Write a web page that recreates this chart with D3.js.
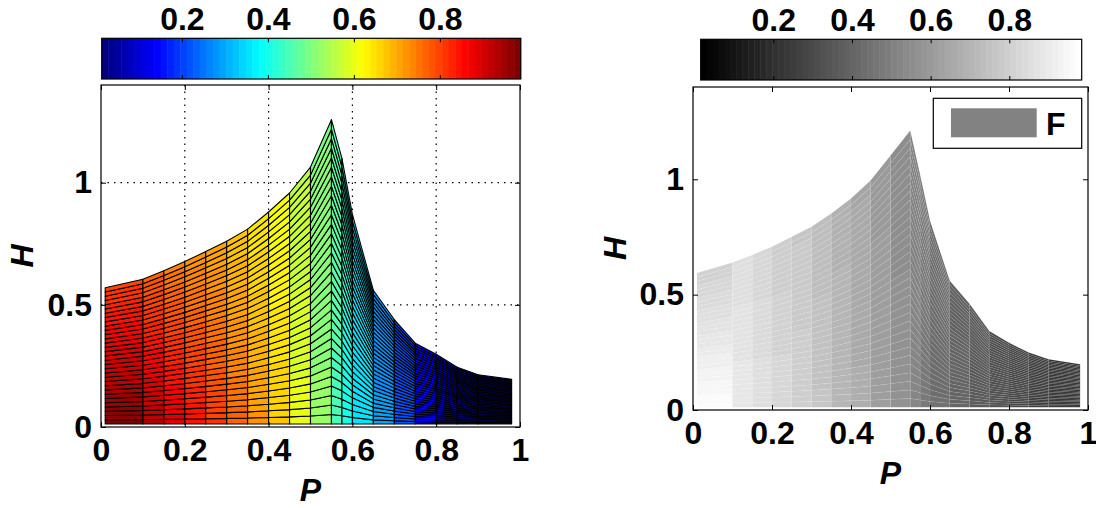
<!DOCTYPE html>
<html>
<head>
<meta charset="utf-8">
<script src="https://cdn.jsdelivr.net/npm/d3@7"></script>
<style>
  body { margin: 0; background: #fff; }
  text { font-family: "Liberation Sans", Arial, sans-serif; font-weight: bold; }
</style>
</head>
<body>
<div id="chart"></div>
<script>
// Data
const pNodes = [0.01, 0.1, 0.15, 0.2, 0.25, 0.3, 0.35, 0.4, 0.45, 0.5, 0.55, 0.575, 0.6, 0.65, 0.7, 0.75, 0.8, 0.85, 0.9, 0.98]
const hTopJet = [0.57, 0.605, 0.64, 0.677, 0.718, 0.76, 0.81, 0.88, 0.958, 1.064, 1.258, 1.10, 0.87, 0.56, 0.44, 0.343, 0.298, 0.245, 0.214, 0.195]
const hTopGray = [0.594, 0.639, 0.672, 0.708, 0.751, 0.794, 0.852, 0.917, 0.996, 1.103, 1.211, 1.02, 0.82, 0.56, 0.46, 0.342, 0.292, 0.249, 0.22, 0.198]
const hBottom = 0.012
const nRows = 32

// F per column (bottom row, top row)
const fBotJet = [0.98, 0.93, 0.89, 0.85, 0.81, 0.77, 0.72, 0.67, 0.60, 0.52, 0.45, 0.40, 0.36, 0.29, 0.22, 0.15, 0.09, 0.05, 0.02]
const fTopJet = [0.80, 0.77, 0.74, 0.72, 0.70, 0.67, 0.64, 0.61, 0.56, 0.50, 0.47, 0.42, 0.35, 0.28, 0.21, 0.14, 0.08, 0.04, 0.02]
const fBotGray = [0.97, 0.89, 0.86, 0.83, 0.80, 0.76, 0.71, 0.67, 0.62, 0.57, 0.52, 0.48, 0.44, 0.40, 0.36, 0.32, 0.28, 0.24, 0.20]
const fTopGray = [0.80, 0.85, 0.82, 0.79, 0.77, 0.73, 0.69, 0.65, 0.60, 0.55, 0.51, 0.47, 0.43, 0.39, 0.35, 0.31, 0.28, 0.24, 0.20]

const xTicks = [0, 0.2, 0.4, 0.6, 0.8, 1]
const yTicks = [0, 0.5, 1]
const colorbarTicks = [0.2, 0.4, 0.6, 0.8]
const legendLabel = 'F'

function draw() {
  const dimensions = { width: 1096, height: 508 }

  const svg = d3.select('#chart')
    .append('svg')
    .attr('width', dimensions.width)
    .attr('height', dimensions.height)

  svg.append('rect')
    .attr('width', dimensions.width)
    .attr('height', dimensions.height)
    .attr('fill', '#fff')

  const clamp = v => Math.max(0, Math.min(1, v))
  const quant = t => Math.max(0, Math.min(63, Math.floor(t * 64))) / 63

  const jet = t => {
    const x = quant(t)
    const r = clamp(1.5 - Math.abs(4 * x - 3))
    const g = clamp(1.5 - Math.abs(4 * x - 2))
    const b = clamp(1.5 - Math.abs(4 * x - 1))
    return d3.rgb(r * 255, g * 255, b * 255).toString()
  }
  const gray = t => {
    const x = quant(t) * 255
    return d3.rgb(x, x, x).toString()
  }

  const panels = [
    {
      box: { left: 101, right: 520, top: 85, bottom: 427 },
      bar: { left: 101.7, right: 520.7, top: 38.3, bottom: 79 },
      clim: [0.0135, 0.988],
      cmap: jet,
      hTop: hTopJet, fBot: fBotJet, fTop: fTopJet,
      edge: '#000', edgeWidth: 1.1, edgeOpacity: 1,
      grid: true, legend: false,
      yLabelX: 22
    },
    {
      box: { left: 693, right: 1088, top: 87, bottom: 410 },
      bar: { left: 700.7, right: 1081.7, top: 39.3, bottom: 80 },
      clim: [0.0155, 0.984],
      cmap: gray,
      hTop: hTopGray, fBot: fBotGray, fTop: fTopGray,
      edge: '#fff', edgeWidth: 0.6, edgeOpacity: 0.1,
      grid: false, legend: true,
      yLabelX: 615
    }
  ]

  panels.forEach(pn => {
    const { box, bar } = pn
    const xScale = d3.scaleLinear().domain([0, 1]).range([box.left, box.right])
    const yScale = d3.scaleLinear().domain([0, 1.4]).range([box.bottom, box.top])
    const cScale = d3.scaleLinear().domain(pn.clim).range([0, 1]).clamp(true)

    const g = svg.append('g')

    // Grid
    if (pn.grid) {
      g.selectAll('.vgrid')
        .data(xTicks.filter(d => d > 0 && d < 1))
        .join('line')
        .attr('x1', d => xScale(d)).attr('x2', d => xScale(d))
        .attr('y1', box.top).attr('y2', box.bottom)
        .attr('stroke', '#000').attr('stroke-width', 1.2)
        .attr('stroke-dasharray', '1.5,5')
      g.selectAll('.hgrid')
        .data(yTicks.filter(d => d > 0))
        .join('line')
        .attr('y1', d => yScale(d)).attr('y2', d => yScale(d))
        .attr('x1', box.left).attr('x2', box.right)
        .attr('stroke', '#000').attr('stroke-width', 1.2)
        .attr('stroke-dasharray', '1.5,5')
    }

    // Surface cells
    const hAt = (i, s) => hBottom + s * (pn.hTop[i] - hBottom)
    const cells = []
    for (let i = 0; i < pNodes.length - 1; i++) {
      for (let r = 0; r < nRows; r++) {
        const s0 = r / nRows
        const s1 = (r + 1) / nRows
        const f = pn.fBot[i] + (pn.fTop[i] - pn.fBot[i]) * (r + 0.5) / nRows
        cells.push({
          pts: [
            [pNodes[i], hAt(i, s0)],
            [pNodes[i + 1], hAt(i + 1, s0)],
            [pNodes[i + 1], hAt(i + 1, s1)],
            [pNodes[i], hAt(i, s1)]
          ],
          f
        })
      }
    }

    g.append('g')
      .selectAll('path')
      .data(cells)
      .join('path')
      .attr('d', d => 'M' + d.pts.map(p => `${xScale(p[0])},${yScale(p[1])}`).join('L') + 'Z')
      .attr('fill', d => pn.cmap(cScale(d.f)))
      .attr('stroke', pn.edge)
      .attr('stroke-opacity', pn.edgeOpacity)
      .attr('stroke-width', pn.edgeWidth)
      .attr('stroke-linejoin', 'round')

    // Axes
    const fmt = d => String(d)
    const xAxis = d3.axisBottom(xScale).tickValues(xTicks).tickFormat(fmt).tickSize(-5).tickPadding(11)
    const xTop = d3.axisTop(xScale).tickValues(xTicks).tickFormat('').tickSize(-5)
    const yAxis = d3.axisLeft(yScale).tickValues(yTicks).tickFormat(fmt).tickSize(-5).tickPadding(9)
    const yRight = d3.axisRight(yScale).tickValues(yTicks).tickFormat('').tickSize(-5)

    const styleAxis = sel => {
      sel.select('.domain').remove()
      sel.selectAll('line').attr('stroke', '#000')
      sel.selectAll('text')
        .attr('fill', '#000')
        .attr('font-size', 32)
        .style('font-size', '32px')
        .style('font-family', '"Liberation Sans", Arial, sans-serif')
        .style('font-weight', 'bold')
    }

    g.append('g').attr('transform', `translate(0,${box.bottom})`).call(xAxis).call(styleAxis)
    g.append('g').attr('transform', `translate(0,${box.top})`).call(xTop).call(styleAxis)
    g.append('g').attr('transform', `translate(${box.left},0)`).call(yAxis).call(styleAxis)
    g.append('g').attr('transform', `translate(${box.right},0)`).call(yRight).call(styleAxis)

    g.append('rect')
      .attr('x', box.left).attr('y', box.top)
      .attr('width', box.right - box.left)
      .attr('height', box.bottom - box.top)
      .attr('fill', 'none').attr('stroke', '#000').attr('stroke-width', 1.2)

    // Axis labels
    g.append('text')
      .text('P')
      .attr('x', (box.left + box.right) / 2)
      .attr('y', box.bottom + 74)
      .attr('text-anchor', 'middle')
      .style('font-size', '32px')
      .style('font-style', 'italic')

    g.append('text')
      .text('H')
      .attr('transform', `translate(${pn.yLabelX + 11},${(box.top + box.bottom) / 2}) rotate(-90)`)
      .attr('text-anchor', 'middle')
      .style('font-size', '32px')
      .style('font-style', 'italic')

    // Colorbar
    const barScale = d3.scaleLinear().domain(pn.clim).range([bar.left, bar.right])
    const steps = d3.range(64)
    const stepW = (bar.right - bar.left) / 64
    g.append('g')
      .selectAll('rect')
      .data(steps)
      .join('rect')
      .attr('x', d => bar.left + d * stepW)
      .attr('y', bar.top)
      .attr('width', stepW + 0.5)
      .attr('height', bar.bottom - bar.top)
      .attr('fill', d => pn.cmap((d + 0.5) / 64))

    const barAxis = d3.axisTop(barScale).tickValues(colorbarTicks).tickFormat(fmt).tickSize(-4).tickPadding(8)
    const barBottom = d3.axisBottom(barScale).tickValues(colorbarTicks).tickFormat('').tickSize(-4)
    g.append('g').attr('transform', `translate(0,${bar.top})`).call(barAxis).call(styleAxis)
    g.append('g').attr('transform', `translate(0,${bar.bottom})`).call(barBottom).call(styleAxis)

    g.append('rect')
      .attr('x', bar.left).attr('y', bar.top)
      .attr('width', bar.right - bar.left)
      .attr('height', bar.bottom - bar.top)
      .attr('fill', 'none').attr('stroke', '#000').attr('stroke-width', 1.2)

    // Legend
    if (pn.legend) {
      const lg = g.append('g')
      lg.append('rect')
        .attr('x', 933.3).attr('y', 98.3)
        .attr('width', 148.4).attr('height', 50)
        .attr('fill', '#fff').attr('stroke', '#000').attr('stroke-width', 1.2)
      lg.append('rect')
        .attr('x', 951).attr('y', 108.3)
        .attr('width', 85.7).attr('height', 29)
        .attr('fill', gray(0.5))
      lg.append('text')
        .text(legendLabel)
        .attr('x', 1046)
        .attr('y', 134.5)
        .style('font-size', '32px')
    }
  })
}

draw()
</script>
</body>
</html>
